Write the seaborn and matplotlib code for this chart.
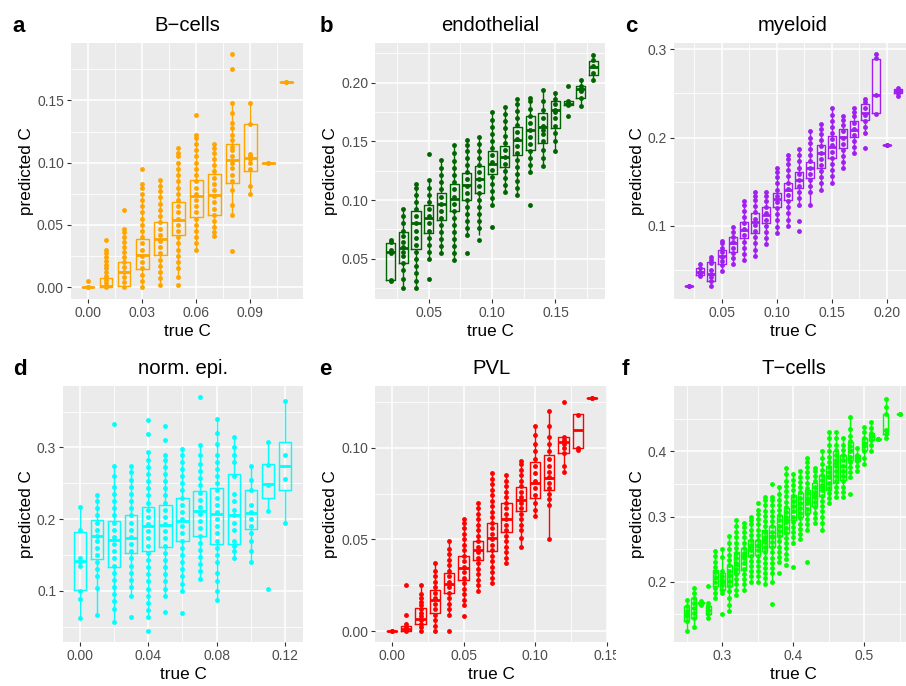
import numpy as np
import pandas as pd
import matplotlib
matplotlib.use("Agg")
import matplotlib.pyplot as plt
import seaborn as sns
from matplotlib.transforms import Bbox, TransformedBbox

# ---------------- data ----------------
# panel a: B-cells
a_x = [0.00, 0.01, 0.02, 0.03, 0.04, 0.05, 0.06, 0.07, 0.08, 0.09, 0.10, 0.11]
a_lo = [0.000, 0.000, 0.000, 0.000, 0.002, 0.008, 0.030, 0.041, 0.058, 0.075, 0.100, 0.165]
a_q1 = [0.000, 0.000, 0.001, 0.0145, 0.0255, 0.042, 0.0566, 0.058, 0.084, 0.093, 0.100, 0.165]
a_med = [0.000, 0.001, 0.012, 0.0255, 0.039, 0.054, 0.073, 0.0737, 0.102, 0.104, 0.100, 0.165]
a_q3 = [0.000, 0.0075, 0.020, 0.039, 0.052, 0.068, 0.086, 0.091, 0.115, 0.131, 0.100, 0.165]
a_hi = [0.000, 0.018, 0.047, 0.076, 0.086, 0.101, 0.122, 0.115, 0.148, 0.148, 0.100, 0.165]
a_pts = [
    [0.000, 0.000, 0.0045],
    [0.000, 0.003, 0.006, 0.009, 0.012, 0.015, 0.018, 0.021, 0.024, 0.027, 0.030, 0.038],
    [0.000, 0.004, 0.008, 0.012, 0.016, 0.020, 0.024, 0.028, 0.032, 0.036, 0.040, 0.044, 0.047, 0.062],
    [0.000, 0.005, 0.010, 0.015, 0.020, 0.025, 0.030, 0.035, 0.040, 0.045, 0.050, 0.055, 0.060, 0.065, 0.070, 0.075, 0.080, 0.083, 0.095],
    [0.002, 0.007, 0.012, 0.017, 0.022, 0.027, 0.032, 0.037, 0.042, 0.047, 0.052, 0.057, 0.062, 0.067, 0.072, 0.077, 0.081, 0.086],
    [0.002, 0.008, 0.015, 0.020, 0.025, 0.030, 0.035, 0.040, 0.045, 0.050, 0.055, 0.060, 0.065, 0.070, 0.075, 0.080, 0.085, 0.090, 0.095, 0.100, 0.105, 0.108, 0.112],
    [0.030, 0.035, 0.040, 0.045, 0.050, 0.055, 0.060, 0.065, 0.070, 0.075, 0.080, 0.085, 0.090, 0.095, 0.100, 0.105, 0.110, 0.115, 0.120, 0.122, 0.138],
    [0.041, 0.044, 0.048, 0.053, 0.058, 0.063, 0.068, 0.073, 0.078, 0.083, 0.088, 0.093, 0.098, 0.103, 0.108, 0.112, 0.115],
    [0.029, 0.058, 0.066, 0.078, 0.085, 0.090, 0.096, 0.100, 0.105, 0.110, 0.113, 0.118, 0.122, 0.128, 0.132, 0.140, 0.148, 0.175, 0.187],
    [0.075, 0.081, 0.095, 0.100, 0.103, 0.105, 0.107, 0.131, 0.148],
    [0.100, 0.100],
    [0.165, 0.165],
]

# panel b: endothelial
b_x = [0.02, 0.03, 0.04, 0.05, 0.06, 0.07, 0.08, 0.09, 0.10, 0.11, 0.12, 0.13, 0.14, 0.15, 0.16, 0.17, 0.18]
b_lo = [0.031, 0.025, 0.025, 0.050, 0.055, 0.049, 0.070, 0.070, 0.096, 0.107, 0.104, 0.124, 0.129, 0.142, 0.181, 0.180, 0.202]
b_q1 = [0.0318, 0.046, 0.058, 0.0716, 0.083, 0.0906, 0.100, 0.1057, 0.122, 0.128, 0.138, 0.143, 0.149, 0.161, 0.181, 0.1866, 0.207]
b_med = [0.0554, 0.0588, 0.080, 0.0844, 0.0966, 0.101, 0.1128, 0.118, 0.131, 0.137, 0.151, 0.160, 0.162, 0.177, 0.182, 0.195, 0.2136]
b_q3 = [0.0636, 0.073, 0.091, 0.0957, 0.106, 0.114, 0.1227, 0.129, 0.142, 0.146, 0.162, 0.172, 0.174, 0.1847, 0.184, 0.197, 0.2187]
b_hi = [0.066, 0.092, 0.114, 0.117, 0.134, 0.147, 0.151, 0.154, 0.175, 0.179, 0.186, 0.187, 0.194, 0.191, 0.184, 0.202, 0.224]
b_pts = [
    [0.031, 0.032, 0.055, 0.057, 0.064, 0.066],
    [0.025, 0.033, 0.040, 0.046, 0.052, 0.056, 0.060, 0.064, 0.069, 0.074, 0.080, 0.086, 0.092],
    [0.025, 0.031, 0.038, 0.044, 0.050, 0.056, 0.062, 0.068, 0.074, 0.080, 0.086, 0.092, 0.098, 0.104, 0.110, 0.114],
    [0.033, 0.050, 0.056, 0.062, 0.068, 0.074, 0.080, 0.086, 0.092, 0.098, 0.104, 0.110, 0.117, 0.139],
    [0.055, 0.061, 0.067, 0.073, 0.079, 0.085, 0.091, 0.097, 0.103, 0.109, 0.115, 0.121, 0.127, 0.134],
    [0.049, 0.055, 0.061, 0.067, 0.073, 0.079, 0.085, 0.091, 0.097, 0.103, 0.109, 0.115, 0.121, 0.127, 0.133, 0.140, 0.147],
    [0.055, 0.070, 0.076, 0.082, 0.088, 0.094, 0.100, 0.106, 0.112, 0.118, 0.124, 0.130, 0.136, 0.142, 0.147, 0.151],
    [0.066, 0.076, 0.082, 0.088, 0.094, 0.100, 0.106, 0.112, 0.118, 0.124, 0.130, 0.136, 0.142, 0.148, 0.154],
    [0.077, 0.096, 0.102, 0.108, 0.114, 0.120, 0.126, 0.132, 0.138, 0.144, 0.150, 0.156, 0.162, 0.168, 0.175],
    [0.107, 0.113, 0.119, 0.125, 0.131, 0.137, 0.143, 0.149, 0.155, 0.161, 0.167, 0.173, 0.179],
    [0.104, 0.110, 0.116, 0.122, 0.128, 0.134, 0.140, 0.146, 0.152, 0.158, 0.164, 0.170, 0.176, 0.182, 0.186],
    [0.096, 0.124, 0.130, 0.136, 0.142, 0.148, 0.154, 0.160, 0.166, 0.172, 0.178, 0.184, 0.187],
    [0.129, 0.136, 0.143, 0.150, 0.156, 0.160, 0.163, 0.170, 0.177, 0.184, 0.194],
    [0.142, 0.150, 0.157, 0.163, 0.170, 0.175, 0.177, 0.182, 0.186, 0.191],
    [0.172, 0.181, 0.182, 0.183, 0.184, 0.197],
    [0.180, 0.187, 0.193, 0.195, 0.197, 0.202],
    [0.202, 0.208, 0.214, 0.219, 0.224],
]

# panel c: myeloid
c_x = [0.02, 0.03, 0.04, 0.05, 0.06, 0.07, 0.08, 0.09, 0.10, 0.11, 0.12, 0.13, 0.14, 0.15, 0.16, 0.17, 0.18, 0.19, 0.20, 0.21]
c_lo = [0.032, 0.043, 0.032, 0.049, 0.057, 0.061, 0.066, 0.079, 0.092, 0.100, 0.124, 0.124, 0.141, 0.149, 0.165, 0.182, 0.205, 0.227, 0.191, 0.247]
c_q1 = [0.032, 0.0437, 0.037, 0.0565, 0.0697, 0.0856, 0.092, 0.1026, 0.1216, 0.129, 0.143, 0.1537, 0.165, 0.1764, 0.1877, 0.201, 0.2198, 0.2274, 0.191, 0.251]
c_med = [0.032, 0.048, 0.045, 0.0656, 0.0807, 0.095, 0.1045, 0.112, 0.130, 0.140, 0.152, 0.166, 0.182, 0.1896, 0.201, 0.2085, 0.2274, 0.248, 0.191, 0.2527]
c_q3 = [0.032, 0.0524, 0.0584, 0.073, 0.0875, 0.1045, 0.114, 0.1216, 0.1374, 0.149, 0.161, 0.1726, 0.1915, 0.2017, 0.210, 0.2191, 0.2376, 0.289, 0.191, 0.255]
c_hi = [0.032, 0.057, 0.064, 0.083, 0.098, 0.128, 0.138, 0.138, 0.165, 0.180, 0.187, 0.207, 0.215, 0.233, 0.225, 0.233, 0.244, 0.295, 0.191, 0.256]
c_pts = [
    [0.032, 0.032],
    [0.043, 0.045, 0.048, 0.052, 0.057],
    [0.032, 0.037, 0.042, 0.045, 0.050, 0.058, 0.061, 0.064],
    [0.049, 0.055, 0.060, 0.065, 0.070, 0.075, 0.080, 0.083],
    [0.057, 0.063, 0.069, 0.075, 0.081, 0.087, 0.093, 0.098],
    [0.061, 0.068, 0.075, 0.082, 0.089, 0.096, 0.103, 0.110, 0.117, 0.123, 0.128],
    [0.066, 0.073, 0.080, 0.087, 0.094, 0.101, 0.108, 0.115, 0.122, 0.129, 0.134, 0.138],
    [0.079, 0.086, 0.093, 0.100, 0.107, 0.114, 0.121, 0.128, 0.134, 0.138],
    [0.092, 0.099, 0.106, 0.113, 0.120, 0.127, 0.134, 0.141, 0.148, 0.155, 0.161, 0.165],
    [0.100, 0.107, 0.114, 0.121, 0.128, 0.135, 0.142, 0.149, 0.156, 0.163, 0.170, 0.176, 0.180],
    [0.094, 0.105, 0.124, 0.131, 0.138, 0.145, 0.152, 0.159, 0.166, 0.173, 0.180, 0.187],
    [0.124, 0.138, 0.145, 0.152, 0.159, 0.166, 0.173, 0.180, 0.187, 0.194, 0.200, 0.207],
    [0.141, 0.148, 0.155, 0.162, 0.169, 0.176, 0.183, 0.190, 0.197, 0.204, 0.210, 0.215],
    [0.149, 0.156, 0.163, 0.170, 0.177, 0.184, 0.191, 0.198, 0.205, 0.212, 0.219, 0.226, 0.233],
    [0.165, 0.172, 0.179, 0.186, 0.193, 0.200, 0.207, 0.214, 0.220, 0.225],
    [0.182, 0.189, 0.196, 0.203, 0.210, 0.217, 0.224, 0.229, 0.233],
    [0.188, 0.205, 0.212, 0.219, 0.226, 0.233, 0.240, 0.244],
    [0.227, 0.248, 0.290, 0.295],
    [0.191, 0.191],
    [0.247, 0.251, 0.253, 0.256],
]

# panel d: norm. epi.
d_x = [0.00, 0.01, 0.02, 0.03, 0.04, 0.05, 0.06, 0.07, 0.08, 0.09, 0.10, 0.11, 0.12]
d_lo = [0.062, 0.066, 0.057, 0.093, 0.063, 0.093, 0.100, 0.117, 0.087, 0.145, 0.140, 0.211, 0.195]
d_q1 = [0.1005, 0.144, 0.133, 0.1526, 0.156, 0.161, 0.1688, 0.176, 0.1656, 0.1656, 0.186, 0.229, 0.241]
d_med = [0.141, 0.177, 0.171, 0.1735, 0.190, 0.192, 0.1977, 0.2116, 0.207, 0.206, 0.2084, 0.249, 0.2735]
d_q3 = [0.1819, 0.199, 0.1967, 0.206, 0.2167, 0.220, 0.2288, 0.2386, 0.243, 0.263, 0.241, 0.2767, 0.307]
d_hi = [0.217, 0.233, 0.274, 0.274, 0.293, 0.290, 0.298, 0.303, 0.340, 0.315, 0.274, 0.308, 0.364]
d_pts = [
    [0.062, 0.088, 0.100, 0.135, 0.140, 0.145, 0.185, 0.217],
    [0.066, 0.104, 0.120, 0.130, 0.140, 0.150, 0.160, 0.170, 0.176, 0.185, 0.195, 0.205, 0.215, 0.225, 0.233],
    [0.057, 0.075, 0.085, 0.095, 0.105, 0.115, 0.125, 0.135, 0.145, 0.155, 0.165, 0.175, 0.185, 0.195, 0.205, 0.215, 0.225, 0.235, 0.245, 0.260, 0.274, 0.333],
    [0.063, 0.093, 0.105, 0.115, 0.125, 0.135, 0.145, 0.155, 0.165, 0.175, 0.185, 0.195, 0.205, 0.215, 0.225, 0.235, 0.245, 0.255, 0.265, 0.274],
    [0.044, 0.063, 0.073, 0.083, 0.093, 0.103, 0.113, 0.123, 0.133, 0.143, 0.153, 0.163, 0.173, 0.183, 0.193, 0.203, 0.213, 0.223, 0.233, 0.243, 0.253, 0.263, 0.273, 0.283, 0.293, 0.318, 0.338],
    [0.070, 0.093, 0.103, 0.113, 0.123, 0.133, 0.143, 0.153, 0.163, 0.173, 0.183, 0.193, 0.203, 0.213, 0.223, 0.233, 0.243, 0.253, 0.263, 0.273, 0.283, 0.290, 0.310, 0.330],
    [0.069, 0.100, 0.110, 0.120, 0.130, 0.140, 0.150, 0.160, 0.170, 0.180, 0.190, 0.200, 0.210, 0.220, 0.230, 0.240, 0.250, 0.260, 0.270, 0.280, 0.290, 0.298],
    [0.117, 0.127, 0.137, 0.147, 0.157, 0.167, 0.177, 0.187, 0.197, 0.207, 0.217, 0.227, 0.237, 0.247, 0.257, 0.267, 0.277, 0.290, 0.303, 0.370],
    [0.087, 0.100, 0.113, 0.125, 0.140, 0.150, 0.160, 0.170, 0.180, 0.190, 0.200, 0.210, 0.220, 0.230, 0.240, 0.250, 0.260, 0.270, 0.280, 0.290, 0.305, 0.320, 0.340],
    [0.145, 0.155, 0.163, 0.170, 0.185, 0.195, 0.205, 0.213, 0.225, 0.235, 0.260, 0.280, 0.290, 0.300, 0.315],
    [0.140, 0.155, 0.170, 0.180, 0.190, 0.200, 0.210, 0.220, 0.240, 0.255, 0.274],
    [0.102, 0.211, 0.248, 0.275, 0.308],
    [0.195, 0.256, 0.289, 0.364],
]

# panel e: PVL
e_x = [0.00, 0.01, 0.02, 0.03, 0.04, 0.05, 0.06, 0.07, 0.08, 0.09, 0.10, 0.11, 0.12, 0.13, 0.14]
e_lo = [0.000, 0.000, 0.000, 0.000, 0.009, 0.014, 0.022, 0.026, 0.037, 0.046, 0.063, 0.050, 0.087, 0.099, 0.127]
e_q1 = [0.000, 0.000, 0.004, 0.0098, 0.0207, 0.0276, 0.0385, 0.0438, 0.0538, 0.0653, 0.0725, 0.0771, 0.0971, 0.0998, 0.127]
e_med = [0.000, 0.0013, 0.0065, 0.0167, 0.0258, 0.0344, 0.0444, 0.0507, 0.061, 0.0716, 0.0807, 0.0835, 0.103, 0.1095, 0.127]
e_q3 = [0.000, 0.0025, 0.0125, 0.0225, 0.0316, 0.0407, 0.0493, 0.0589, 0.0698, 0.0785, 0.0922, 0.0958, 0.1058, 0.1184, 0.127]
e_hi = [0.000, 0.005, 0.025, 0.037, 0.049, 0.061, 0.070, 0.086, 0.085, 0.093, 0.112, 0.120, 0.106, 0.1185, 0.127]
e_pts = [
    [0.000, 0.000],
    [0.000, 0.001, 0.002, 0.004, 0.009, 0.025],
    [0.000, 0.002, 0.004, 0.006, 0.008, 0.010, 0.012, 0.014, 0.016, 0.018, 0.020, 0.025],
    [0.000, 0.003, 0.006, 0.009, 0.012, 0.015, 0.018, 0.021, 0.024, 0.027, 0.030, 0.033, 0.037],
    [0.000, 0.009, 0.012, 0.015, 0.018, 0.021, 0.024, 0.027, 0.030, 0.033, 0.036, 0.039, 0.042, 0.045, 0.049],
    [0.008, 0.014, 0.017, 0.020, 0.023, 0.026, 0.029, 0.032, 0.035, 0.038, 0.041, 0.044, 0.047, 0.050, 0.053, 0.056, 0.059, 0.061],
    [0.022, 0.025, 0.028, 0.031, 0.034, 0.037, 0.040, 0.043, 0.046, 0.049, 0.052, 0.055, 0.058, 0.061, 0.064, 0.067, 0.070],
    [0.026, 0.029, 0.032, 0.035, 0.038, 0.041, 0.044, 0.047, 0.050, 0.053, 0.056, 0.059, 0.062, 0.065, 0.068, 0.071, 0.074, 0.077, 0.080, 0.083, 0.086],
    [0.037, 0.040, 0.043, 0.046, 0.049, 0.052, 0.055, 0.058, 0.061, 0.064, 0.067, 0.070, 0.073, 0.076, 0.079, 0.082, 0.085],
    [0.046, 0.051, 0.055, 0.058, 0.061, 0.064, 0.067, 0.070, 0.073, 0.076, 0.079, 0.082, 0.085, 0.088, 0.091, 0.093],
    [0.063, 0.066, 0.070, 0.074, 0.078, 0.082, 0.086, 0.090, 0.094, 0.098, 0.102, 0.107, 0.112],
    [0.050, 0.069, 0.072, 0.075, 0.078, 0.081, 0.084, 0.087, 0.090, 0.094, 0.098, 0.102, 0.106, 0.112, 0.120],
    [0.087, 0.090, 0.097, 0.100, 0.102, 0.104, 0.106, 0.125],
    [0.099, 0.100, 0.118],
    [0.127, 0.127],
]

# panel f: T-cells
f_x = [0.25, 0.26, 0.27, 0.28, 0.29, 0.30, 0.31, 0.32, 0.33, 0.34, 0.35, 0.36, 0.37, 0.38, 0.39,
       0.40, 0.41, 0.42, 0.43, 0.44, 0.45, 0.46, 0.47, 0.48, 0.49, 0.50, 0.51, 0.52, 0.53, 0.55]
f_lo = [0.125, 0.131, 0.165, 0.145, 0.175, 0.183, 0.155, 0.180, 0.188, 0.200, 0.200, 0.197, 0.200, 0.230, 0.235,
        0.260, 0.265, 0.280, 0.290, 0.280, 0.320, 0.330, 0.330, 0.360, 0.370, 0.380, 0.400, 0.419, 0.421, 0.458]
f_q1 = [0.139, 0.144, 0.167, 0.151, 0.193, 0.187, 0.194, 0.213, 0.218, 0.239, 0.241, 0.2465, 0.254, 0.270, 0.2747,
        0.295, 0.300, 0.305, 0.3156, 0.331, 0.341, 0.351, 0.3565, 0.387, 0.385, 0.4025, 0.418, 0.419, 0.427, 0.458]
f_med = [0.151, 0.159, 0.168, 0.157, 0.2056, 0.200, 0.211, 0.226, 0.239, 0.253, 0.255, 0.264, 0.270, 0.285, 0.295,
         0.3156, 0.3207, 0.326, 0.3335, 0.346, 0.362, 0.382, 0.377, 0.4025, 0.390, 0.413, 0.423, 0.419, 0.433, 0.458]
f_q3 = [0.162, 0.175, 0.169, 0.163, 0.218, 0.213, 0.226, 0.245, 0.2516, 0.264, 0.264, 0.280, 0.285, 0.303, 0.313,
        0.3335, 0.336, 0.341, 0.351, 0.364, 0.377, 0.400, 0.395, 0.415, 0.395, 0.420, 0.428, 0.419, 0.457, 0.458]
f_hi = [0.172, 0.190, 0.170, 0.168, 0.247, 0.250, 0.270, 0.295, 0.290, 0.300, 0.310, 0.330, 0.330, 0.345, 0.375,
        0.365, 0.370, 0.390, 0.375, 0.400, 0.430, 0.430, 0.420, 0.452, 0.405, 0.438, 0.445, 0.419, 0.480, 0.458]
f_pts = [
    [0.125, 0.139, 0.147, 0.155, 0.162, 0.172],
    [0.131, 0.144, 0.152, 0.160, 0.168, 0.175, 0.183, 0.190],
    [0.165, 0.167, 0.168, 0.170],
    [0.145, 0.151, 0.157, 0.163, 0.168, 0.194],
    [0.175, 0.183, 0.191, 0.199, 0.207, 0.215, 0.223, 0.231, 0.239, 0.247],
    [0.150, 0.183, 0.188, 0.195, 0.202, 0.209, 0.216, 0.238, 0.250],
    [0.155, 0.165, 0.175, 0.185, 0.193, 0.201, 0.209, 0.217, 0.225, 0.233, 0.241, 0.250, 0.260, 0.270],
    [0.180, 0.188, 0.196, 0.204, 0.212, 0.220, 0.228, 0.236, 0.244, 0.252, 0.260, 0.268, 0.276, 0.285, 0.295],
    [0.188, 0.196, 0.204, 0.212, 0.220, 0.228, 0.236, 0.244, 0.252, 0.260, 0.268, 0.276, 0.284, 0.290],
    [0.200, 0.208, 0.216, 0.224, 0.232, 0.240, 0.248, 0.256, 0.264, 0.272, 0.280, 0.288, 0.295, 0.300],
    [0.200, 0.208, 0.216, 0.224, 0.232, 0.240, 0.248, 0.256, 0.264, 0.272, 0.280, 0.288, 0.296, 0.304, 0.310, 0.320],
    [0.197, 0.205, 0.213, 0.221, 0.229, 0.237, 0.245, 0.253, 0.261, 0.269, 0.277, 0.285, 0.293, 0.301, 0.309, 0.317, 0.325, 0.330],
    [0.166, 0.200, 0.213, 0.221, 0.229, 0.237, 0.245, 0.253, 0.261, 0.269, 0.277, 0.285, 0.293, 0.301, 0.309, 0.317, 0.325, 0.330, 0.350],
    [0.213, 0.230, 0.238, 0.246, 0.254, 0.262, 0.270, 0.278, 0.286, 0.294, 0.302, 0.310, 0.318, 0.326, 0.334, 0.345],
    [0.225, 0.235, 0.243, 0.251, 0.259, 0.267, 0.275, 0.283, 0.291, 0.299, 0.307, 0.315, 0.323, 0.331, 0.339, 0.347, 0.355, 0.365, 0.375],
    [0.223, 0.260, 0.268, 0.276, 0.284, 0.292, 0.300, 0.308, 0.316, 0.324, 0.332, 0.340, 0.348, 0.356, 0.365],
    [0.265, 0.273, 0.281, 0.289, 0.297, 0.305, 0.313, 0.321, 0.329, 0.337, 0.345, 0.353, 0.361, 0.370],
    [0.231, 0.280, 0.288, 0.296, 0.304, 0.312, 0.320, 0.328, 0.336, 0.344, 0.352, 0.360, 0.368, 0.376, 0.383, 0.390],
    [0.290, 0.298, 0.306, 0.314, 0.322, 0.330, 0.338, 0.346, 0.354, 0.362, 0.370, 0.375],
    [0.280, 0.290, 0.300, 0.308, 0.316, 0.324, 0.332, 0.340, 0.348, 0.356, 0.364, 0.372, 0.380, 0.390, 0.400],
    [0.320, 0.328, 0.336, 0.344, 0.352, 0.360, 0.368, 0.376, 0.384, 0.392, 0.400, 0.410, 0.420, 0.430],
    [0.330, 0.338, 0.346, 0.354, 0.362, 0.370, 0.378, 0.386, 0.394, 0.402, 0.410, 0.420, 0.430],
    [0.330, 0.338, 0.346, 0.354, 0.362, 0.370, 0.378, 0.386, 0.394, 0.402, 0.410, 0.420],
    [0.335, 0.360, 0.368, 0.376, 0.384, 0.392, 0.400, 0.408, 0.416, 0.424, 0.435, 0.452],
    [0.370, 0.378, 0.385, 0.390, 0.395, 0.405],
    [0.380, 0.390, 0.400, 0.408, 0.413, 0.420, 0.430, 0.438],
    [0.400, 0.410, 0.418, 0.423, 0.428, 0.436, 0.445],
    [0.419, 0.419],
    [0.421, 0.427, 0.433, 0.457, 0.468, 0.480],
    [0.458, 0.458],
]

titles = ["B\u2212cells", "endothelial", "myeloid", "norm. epi.", "PVL", "T\u2212cells"]
letters = ["a", "b", "c", "d", "e", "f"]
colors = ["#FFA500", "#006400", "#A020F0", "#00FFFF", "#FF0000", "#00FF00"]

x_ticks = [[0.00, 0.03, 0.06, 0.09], [0.05, 0.10, 0.15], [0.05, 0.10, 0.15, 0.20],
           [0.00, 0.04, 0.08, 0.12], [0.00, 0.05, 0.10, 0.15], [0.3, 0.4, 0.5]]
x_labels = [["0.00", "0.03", "0.06", "0.09"], ["0.05", "0.10", "0.15"], ["0.05", "0.10", "0.15", "0.20"],
            ["0.00", "0.04", "0.08", "0.12"], ["0.00", "0.05", "0.10", "0.15"], ["0.3", "0.4", "0.5"]]
y_ticks = [[0.00, 0.05, 0.10, 0.15], [0.05, 0.10, 0.15, 0.20], [0.1, 0.2, 0.3],
           [0.1, 0.2, 0.3], [0.00, 0.05, 0.10], [0.2, 0.3, 0.4]]
y_labels = [["0.00", "0.05", "0.10", "0.15"], ["0.05", "0.10", "0.15", "0.20"], ["0.1", "0.2", "0.3"],
            ["0.1", "0.2", "0.3"], ["0.00", "0.05", "0.10"], ["0.2", "0.3", "0.4"]]

# ---------------- layout ----------------
plt.rcParams['font.family'] = ['Liberation Sans', 'DejaVu Sans']
W, H = 906, 686
fig = plt.figure(figsize=(W / 100, H / 100), dpi=100)

# axes boxes in pixels: left, right, top, bottom
boxes = [(71, 303, 43.3, 299), (375.3, 605, 43.3, 299), (674, 912, 43.3, 299),
         (63.3, 302.7, 386.3, 642), (375.3, 606.7, 386.3, 642), (674, 913, 386.3, 642)]
xlims = [(-0.00944, 0.1194), (0.00785, 0.1891), (0.00664, 0.223),
         (-0.00977, 0.1304), (-0.01168, 0.1501), (0.232, 0.5686)]
ylims = [(-0.00965, 0.196), (0.01564, 0.2336), (0.01687, 0.3069),
         (0.0284, 0.3852), (-0.006, 0.1335), (0.1075, 0.4998)]
letter_pos = [(12.7, 32), (319.3, 32), (624.7, 32), (13.3, 375), (318.7, 375), (621.3, 375)]

panels = [
    (a_x, a_lo, a_q1, a_med, a_q3, a_hi, a_pts),
    (b_x, b_lo, b_q1, b_med, b_q3, b_hi, b_pts),
    (c_x, c_lo, c_q1, c_med, c_q3, c_hi, c_pts),
    (d_x, d_lo, d_q1, d_med, d_q3, d_hi, d_pts),
    (e_x, e_lo, e_q1, e_med, e_q3, e_hi, e_pts),
    (f_x, f_lo, f_q1, f_med, f_q3, f_hi, f_pts),
]

axes = []
for i, (xs, lo, q1, med, q3, hi, pts) in enumerate(panels):
    L, R, T, B = boxes[i]
    ax = fig.add_axes([L / W, 1 - B / H, (R - L) / W, (B - T) / H])
    axes.append(ax)
    ax.set_facecolor("#EBEBEB")
    col = colors[i]

    box_df = pd.DataFrame({
        "x": np.repeat(xs, 5),
        "y": np.column_stack([lo, q1, med, q3, hi]).ravel(),
    })
    sns.boxplot(data=box_df, x="x", y="y", native_scale=True, whis=(0, 100),
                fill=False, color=col, width=0.72, linewidth=1.0,
                showfliers=False, showcaps=False,
                medianprops=dict(linewidth=2.0), ax=ax, zorder=2)

    pt_df = pd.DataFrame({
        "x": [x for x, p in zip(xs, pts) for _ in p],
        "y": [v for p in pts for v in p],
    })
    sns.stripplot(data=pt_df, x="x", y="y", native_scale=True, jitter=False,
                  color=col, size=3.5, linewidth=0, ax=ax, zorder=3)

    xt = x_ticks[i]
    yt = y_ticks[i]
    ax.set_xticks(xt)
    ax.set_xticklabels(x_labels[i])
    ax.set_yticks(yt)
    ax.set_yticklabels(y_labels[i])
    dx = xt[1] - xt[0]
    dy = yt[1] - yt[0]
    ax.set_xticks([xt[0] - dx / 2] + [t + dx / 2 for t in xt], minor=True)
    ax.set_yticks([yt[0] - dy / 2] + [t + dy / 2 for t in yt], minor=True)
    ax.set_xlim(*xlims[i])
    ax.set_ylim(*ylims[i])

    ax.grid(which="major", color="white", linewidth=1.15)
    ax.grid(which="minor", color="white", linewidth=0.6)
    ax.set_axisbelow(True)
    for s in ax.spines.values():
        s.set_visible(False)
    ax.tick_params(which="major", length=2.9, width=0.8, color="#333333",
                   labelsize=10, labelcolor="#4D4D4D", pad=2.2)
    ax.tick_params(which="minor", length=0)

    ax.set_xlabel("true C", fontsize=12.3, color="black", labelpad=3)
    ax.set_ylabel("predicted C", fontsize=12.3, color="black", labelpad=2)
    ax.set_title(titles[i], fontsize=14.6, color="black", pad=9.2)

    lx, ly = letter_pos[i]
    fig.text(lx / W, 1 - ly / H, letters[i], fontsize=16, fontweight="bold",
             ha="left", va="baseline", color="black")

# the 0.15 label of panel e is cut off in the reference
clip = TransformedBbox(Bbox([[0, 0], [616 / W, 1]]), fig.transFigure)
for tick in axes[4].xaxis.get_major_ticks():
    tick.label1.set_clip_on(True)
    tick.label1.set_clip_box(clip)

fig.savefig("out.png", dpi=100)
